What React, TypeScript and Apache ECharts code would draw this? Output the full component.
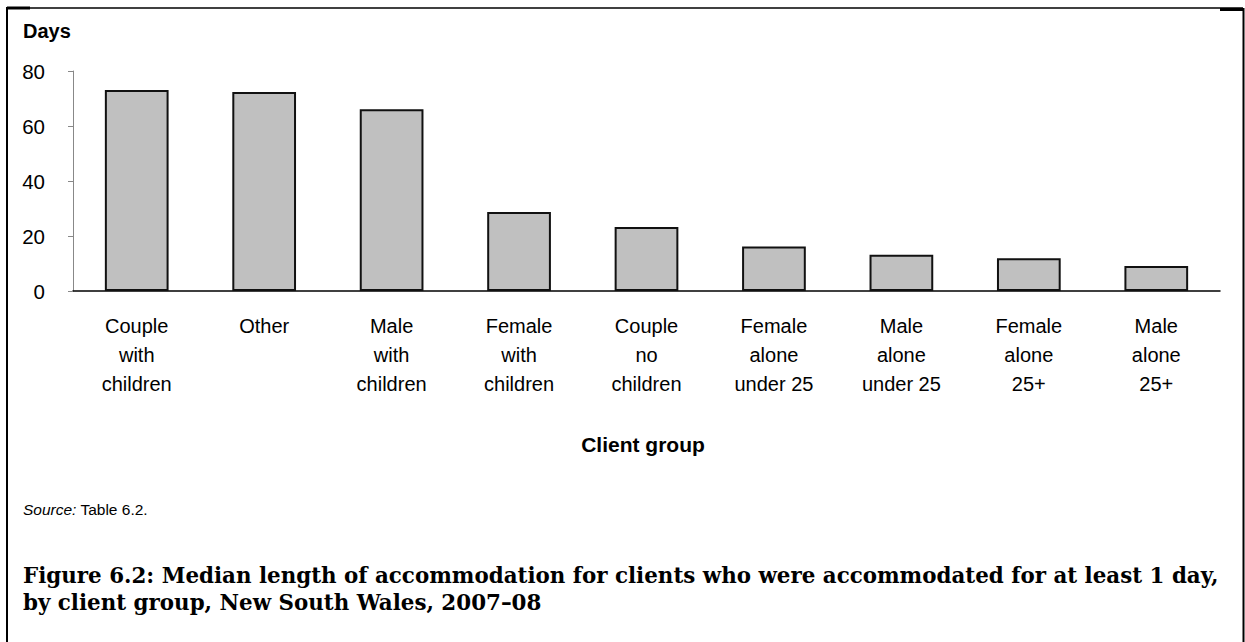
import React, { useEffect, useRef } from "react";
import * as echarts from "echarts";

const categories = [
  "Couple\nwith\nchildren",
  "Other",
  "Male\nwith\nchildren",
  "Female\nwith\nchildren",
  "Couple\nno\nchildren",
  "Female\nalone\nunder 25",
  "Male\nalone\nunder 25",
  "Female\nalone\n25+",
  "Male\nalone\n25+",
];
const medianDays = [73.1, 72.4, 66.1, 28.7, 23.3, 16.2, 13.2, 11.9, 9.1];
const yTicks = { min: 0, max: 80, interval: 20 };
const yAxisTitle = "Days";
const xAxisTitle = "Client group";
const sourceLabel = "Source:";
const sourceText = " Table 6.2.";
const captionLines = [
  "Figure 6.2: Median length of accommodation for clients who were accommodated for at least 1 day,",
  "by client group, New South Wales, 2007–08",
];

const SANS = "Liberation Sans, Arial, Helvetica, sans-serif";
const SERIF = "DejaVu Serif, Liberation Serif, serif";

export default function App() {
  const ref = useRef<HTMLDivElement>(null);
  useEffect(() => {
    if (!ref.current) return;
    const chart = echarts.init(ref.current, undefined, { renderer: "svg" });
    chart.setOption({
      animation: false,
      backgroundColor: "#ffffff",
      grid: { left: 73, right: 25, top: 71, bottom: 351, containLabel: false },
      xAxis: {
        type: "category",
        data: categories,
        axisLine: { show: true, lineStyle: { color: "#000", width: 1.5 } },
        axisTick: { show: false },
        axisLabel: {
          interval: 0,
          margin: 20,
          color: "#000",
          fontFamily: SANS,
          fontSize: 20,
          lineHeight: 29,
          align: "center",
        },
      },
      yAxis: {
        type: "value",
        min: yTicks.min,
        max: yTicks.max,
        interval: yTicks.interval,
        splitLine: { show: false },
        axisLine: { show: true, lineStyle: { color: "#888", width: 1 } },
        axisTick: { show: true, length: 5, inside: false, lineStyle: { color: "#888" } },
        axisLabel: { margin: 28, color: "#000", fontFamily: SANS, fontSize: 20.5 },
      },
      series: [
        {
          type: "bar",
          data: medianDays,
          barCategoryGap: "50%",
          itemStyle: { color: "#c0c0c0", borderColor: "#111", borderWidth: 2 },
        },
      ],
      graphic: [
        { type: "line", shape: { x1: 7, y1: 8, x2: 1243, y2: 8 }, style: { stroke: "#000", lineWidth: 1.5 } },
        { type: "line", shape: { x1: 7, y1: 8, x2: 30, y2: 8 }, style: { stroke: "#000", lineWidth: 3 } },
        { type: "line", shape: { x1: 1220, y1: 9.5, x2: 1243, y2: 9.5 }, style: { stroke: "#000", lineWidth: 3 } },
        { type: "line", shape: { x1: 7, y1: 7, x2: 7, y2: 642 }, style: { stroke: "#000", lineWidth: 2 } },
        { type: "line", shape: { x1: 1243.5, y1: 8, x2: 1243.5, y2: 642 }, style: { stroke: "#000", lineWidth: 2 } },
        {
          type: "text",
          x: 23,
          y: 31,
          style: { text: yAxisTitle, font: `bold 20px ${SANS}`, fill: "#000", verticalAlign: "middle" },
        },
        {
          type: "text",
          x: 643,
          y: 444,
          style: {
            text: xAxisTitle,
            font: `bold 21px ${SANS}`,
            fill: "#000",
            align: "center",
            verticalAlign: "middle",
          },
        },
        {
          type: "text",
          x: 23,
          y: 509,
          style: {
            text: `{i|${sourceLabel}}{n|${sourceText}}`,
            verticalAlign: "middle",
            rich: {
              i: { fontFamily: SANS, fontSize: 15.5, fontStyle: "italic", fill: "#000" },
              n: { fontFamily: SANS, fontSize: 15.5, fill: "#000" },
            },
          },
        },
        ...captionLines.map((line, i) => ({
          type: "text",
          x: 23,
          y: 575 + i * 27,
          style: {
            text: line,
            font: `bold 21.4px ${SERIF}`,
            fill: "#000",
            verticalAlign: "middle",
          },
        })),
      ],
    });
    return () => chart.dispose();
  }, []);
  return (
    <div
      ref={ref}
      style={{ position: "absolute", left: 0, top: 0, width: 1245, height: 642 }}
    />
  );
}
